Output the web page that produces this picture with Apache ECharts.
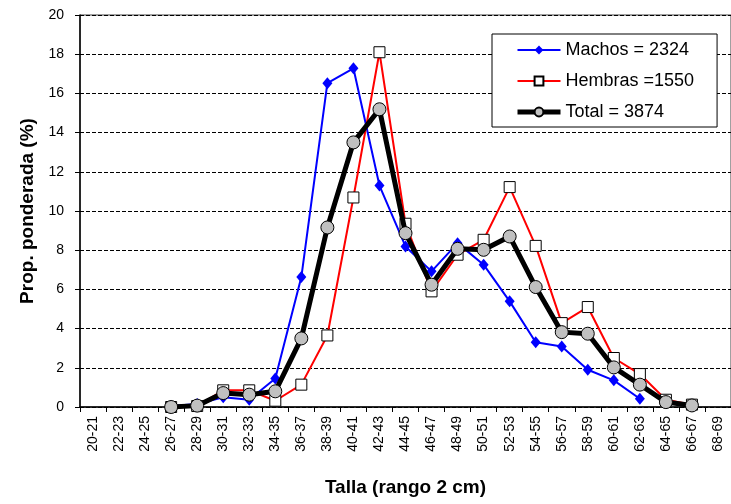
<!DOCTYPE html>
<html>
<head>
<meta charset="utf-8">
<script src="https://cdn.jsdelivr.net/npm/echarts@6/dist/echarts.min.js"></script>
<style>
html,body{margin:0;padding:0;background:#fff;}
#chart{width:731px;height:504px;}
</style>
</head>
<body>
<div id="chart"></div>
<script>
const categories = ["20-21","22-23","24-25","26-27","28-29","30-31","32-33","34-35","36-37","38-39","40-41","42-43","44-45","46-47","48-49","50-51","52-53","54-55","56-57","58-59","60-61","62-63","64-65","66-67","68-69"];
const machos = [null,null,null,0.05,0.15,0.5,0.37,1.45,6.63,16.52,17.28,11.3,8.19,6.92,8.36,7.26,5.39,3.3,3.09,1.9,1.36,0.42,null,null,null];
const hembras = [null,null,null,0,0.05,0.85,0.85,0.32,1.14,3.65,10.69,18.1,9.35,5.9,7.77,8.53,11.22,8.22,4.28,5.1,2.5,1.68,0.37,0.12,null];
const total = [null,null,null,0,0.07,0.71,0.63,0.8,3.5,9.16,13.5,15.19,8.87,6.24,8.07,8.02,8.7,6.12,3.82,3.74,2.02,1.14,0.25,0.08,null];
const seriesNames = ["Machos = 2324","Hembras =1550","Total = 3874"];
const yTicks = {min:0, max:20, interval:2};

const FONT = "'Liberation Sans', Arial, sans-serif";
const chart = echarts.init(document.getElementById('chart'), null, {renderer:'canvas'});
chart.setOption({
  animation:false,
  backgroundColor:'#fff',
  grid:{left:80, top:15, width:659, height:392, show:true, borderColor:'#404040', borderWidth:1, backgroundColor:'transparent'},
  legend:{
    orient:'vertical', left:492, top:34,
    padding:[7,23,6,23],
    itemWidth:43, itemHeight:11, itemGap:13,
    backgroundColor:'#fff', borderColor:'#000', borderWidth:1,
    lineStyle:{width:'inherit'},
    textStyle:{fontFamily:FONT, fontSize:18, color:'#000'},
    data:seriesNames
  },
  xAxis:{
    type:'category', data:categories, boundaryGap:true,
    name:'Talla (rango 2 cm)', nameLocation:'middle', nameGap:71,
    nameTextStyle:{fontFamily:FONT, fontSize:19, fontWeight:'bold', color:'#000'},
    axisLine:{lineStyle:{color:'#000', width:1.5}},
    axisTick:{show:true, length:5, inside:false, lineStyle:{color:'#000'}},
    axisLabel:{rotate:90, interval:0, margin:9, fontFamily:FONT, fontSize:14, color:'#000'},
    splitLine:{show:false}
  },
  yAxis:{
    type:'value', min:yTicks.min, max:yTicks.max, interval:yTicks.interval,
    name:'Prop. ponderada (%)', nameLocation:'middle', nameGap:38,
    nameTextStyle:{fontFamily:FONT, fontSize:19, fontWeight:'bold', color:'#000'},
    axisLine:{show:true, lineStyle:{color:'#000', width:1.5}},
    axisTick:{show:true, length:5, lineStyle:{color:'#000'}},
    axisLabel:{margin:16, fontFamily:FONT, fontSize:14, color:'#000'},
    splitLine:{show:true, lineStyle:{color:'#000', width:1, type:[4,2]}}
  },
  series:[
    {name:seriesNames[0], type:'line', data:machos, symbol:'diamond', symbolSize:[10,12],
     lineStyle:{color:'#0000FF', width:2}, itemStyle:{color:'#0000FF', borderColor:'#0000FF', borderWidth:0}, z:2},
    {name:seriesNames[1], type:'line', data:hembras, symbol:'rect', symbolSize:11,
     lineStyle:{color:'#FF0000', width:2}, itemStyle:{color:'#FFFFFF', borderColor:'#000', borderWidth:1}, z:3},
    {name:seriesNames[2], type:'line', data:total, symbol:'circle', symbolSize:13,
     lineStyle:{color:'#000', width:5}, itemStyle:{color:'#C0C0C0', borderColor:'#000', borderWidth:1}, z:4}
  ]
});
</script>
</body>
</html>
